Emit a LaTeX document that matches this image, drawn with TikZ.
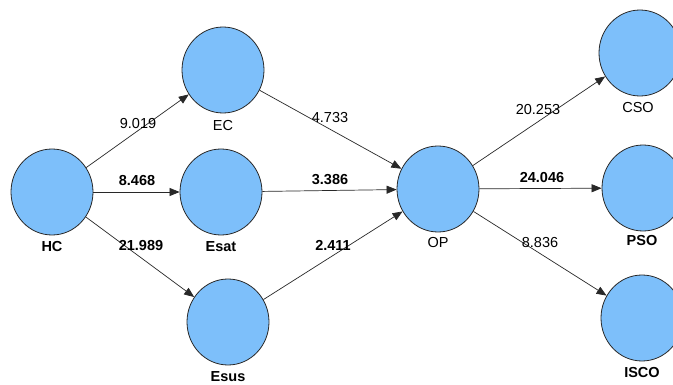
\documentclass[tikz,border=0pt]{standalone}
\usepackage{fontspec}
\setmainfont{Liberation Sans}
\usetikzlibrary{shapes.geometric,arrows.meta}
\definecolor{lv}{RGB}{125,191,250}
\definecolor{ln}{RGB}{40,40,40}
\tikzset{
  lvar/.style={ellipse,draw=ln,line width=0.8pt,fill=lv,minimum width=82pt,minimum height=86pt,inner sep=0pt},
  vlab/.style={font=\fontsize{14.5}{15}\selectfont,text=black},
  vlabb/.style={vlab,font=\fontsize{14.5}{15}\selectfont\bfseries},
  elab/.style={font=\fontsize{14.5}{15}\selectfont,text=black},
  elabb/.style={elab,font=\fontsize{14.5}{15}\selectfont\bfseries},
  path/.style={draw=ln,line width=0.7pt,-{Triangle[length=10pt,width=8pt]}}
}
\begin{document}
\begin{tikzpicture}[x=1pt,y=-1pt]
\clip (0,0) rectangle (673,385);
\fill[white] (0,0) rectangle (673,385);
% latent variables
\node[lvar] (HC) at (52,192) {};
\node[lvar] (EC) at (223,70) {};
\node[lvar] (Esat) at (221,192) {};
\node[lvar] (Esus) at (228,322) {};
\node[lvar] (OP) at (438,189) {};
\node[lvar] (CSO) at (640,53) {};
\node[lvar] (PSO) at (643,188) {};
\node[lvar] (ISCO) at (642,318) {};
% names
\node[vlabb] (tHC) at (52,247) {HC};
\node[vlab] (tEC) at (223,126) {EC};
\node[vlabb] (tEsat) at (221,247) {Esat};
\node[vlabb] (tEsus) at (228,377) {Esus};
\node[vlab] (tOP) at (438,243) {OP};
\node[vlab] (tCSO) at (638,108) {CSO};
\node[vlabb] (tPSO) at (642,241) {PSO};
\node[vlabb] (tISCO) at (642,373) {ISCO};
% paths
\draw[path] (HC) -- (EC);
\draw[path] (HC) -- (Esat);
\draw[path] (HC) -- (Esus);
\draw[path] (EC) -- (OP);
\draw[path] (Esat) -- (OP);
\draw[path] (Esus) -- (OP);
\draw[path] (OP) -- (CSO);
\draw[path] (OP) -- (PSO);
\draw[path] (OP) -- (ISCO);
% coefficients
\node[elab] (c1) at (138,124) {9.019};
\node[elabb] (c2) at (137,181) {8.468};
\node[elabb] (c3) at (141,246) {21.989};
\node[elab] (c4) at (330,118) {4.733};
\node[elabb] (c5) at (330,180) {3.386};
\node[elabb] (c6) at (333,245) {2.411};
\node[elab] (c7) at (538,110) {20.253};
\node[elabb] (c8) at (542,178) {24.046};
\node[elab] (c9) at (540,243) {8.836};
\end{tikzpicture}
\end{document}
